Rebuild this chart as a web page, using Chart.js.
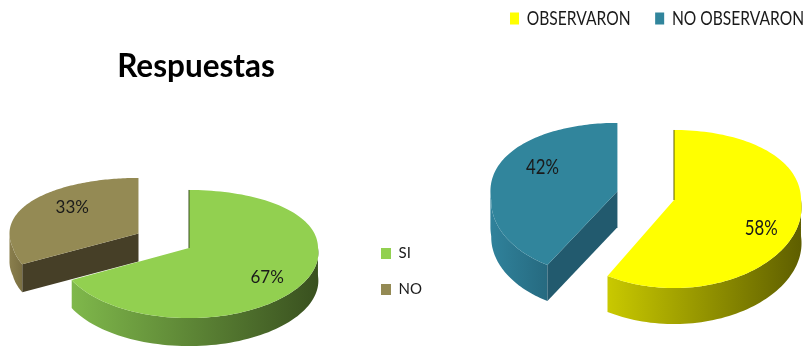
<!DOCTYPE html>
<html>
<head>
<meta charset="utf-8">
<title>Respuestas</title>
<script src="https://cdn.jsdelivr.net/npm/chart.js@4"></script>
<style>
  html, body { margin: 0; background: #fff; overflow: hidden; }
  canvas { position: absolute; left: 0; top: 0; }
</style>
</head>
<body>
<canvas id="respuestas" width="806" height="347"></canvas>
<canvas id="observaron" width="806" height="347"></canvas>
<script>
const respuestasLabels = ["SI", "NO"];
const respuestasValues = [67, 33];
const observaronLabels = ["OBSERVARON", "NO OBSERVARON"];
const observaronValues = [58, 42];

const textColor = "#1a1a1a";

// tilted disc: unit circle coordinates to canvas pixels, near side looks bigger
function project(o, u, v) {
  const w = 1 - o.tilt * v;
  const wx = 1 - 0.8 * o.tilt * Math.max(v, 0);
  return { x: o.cx + (o.rx * u) / wx, y: o.cy + (o.ry * v) / w };
}

const pie3d = {
  id: "pie3d",
  beforeDatasetsDraw(chart, args, o) {
    const ctx = chart.ctx;
    const arcs = chart.getDatasetMeta(0).data;
    // pulled out slices sit behind, so they go first
    for (let i = arcs.length - 1; i >= 0; i--) {
      const start = arcs[i].startAngle;
      const end = arcs[i].endAngle;
      const mid = (start + end) / 2;
      const ou = Math.cos(mid) * o.explode[i];
      const ov = Math.sin(mid) * o.explode[i];
      const apex = project(o, ou, ov);
      const rim = [];
      for (let k = 0; k <= 120; k++) {
        const a = start + ((end - start) * k) / 120;
        rim.push({ a, ...project(o, ou + Math.cos(a), ov + Math.sin(a)) });
      }

      // outer wall, only the part turned to the viewer
      const front = rim.filter((p) => Math.sin(p.a) >= -0.03);
      if (front.length) {
        const xs = front.map((p) => p.x);
        const grad = ctx.createLinearGradient(Math.min(...xs), 0, Math.max(...xs), 0);
        grad.addColorStop(0, o.wallFrom[i]);
        grad.addColorStop(1, o.wallTo[i]);
        ctx.fillStyle = grad;
        ctx.beginPath();
        front.forEach((p) => ctx.lineTo(p.x, p.y));
        front.slice().reverse().forEach((p) => ctx.lineTo(p.x, p.y + o.depth));
        ctx.closePath();
        ctx.fill();
      }

      // cut face on the near side of a slice
      if (Math.cos(start) < -0.01) {
        const p = rim[0];
        ctx.fillStyle = o.cut[i];
        ctx.beginPath();
        ctx.moveTo(apex.x, apex.y);
        ctx.lineTo(p.x, p.y);
        ctx.lineTo(p.x, p.y + o.depth);
        ctx.lineTo(apex.x, apex.y + o.depth);
        ctx.closePath();
        ctx.fill();
      }

      // top face
      ctx.fillStyle = chart.data.datasets[0].backgroundColor[i];
      ctx.beginPath();
      ctx.moveTo(apex.x, apex.y);
      rim.forEach((p) => ctx.lineTo(p.x, p.y));
      ctx.closePath();
      ctx.fill();

      // thin dark sliver along the upright edge of the main slice
      if (!o.explode[i]) {
        ctx.strokeStyle = o.wallTo[i];
        ctx.lineWidth = 1;
        ctx.beginPath();
        ctx.moveTo(apex.x, apex.y);
        ctx.lineTo(rim[0].x, rim[0].y);
        ctx.stroke();
      }
    }

    // percent labels, narrowed by labelStretch
    ctx.fillStyle = textColor;
    ctx.font = o.labelFont;
    ctx.textAlign = "center";
    ctx.textBaseline = "middle";
    arcs.forEach((arc, i) => {
      const mid = (arc.startAngle + arc.endAngle) / 2;
      const f = o.explode[i] + o.labelRadius;
      const p = project(o, Math.cos(mid) * f, Math.sin(mid) * f);
      const value = chart.data.datasets[0].data[i];
      ctx.save();
      ctx.translate(p.x + o.labelShift[i][0], p.y + o.labelShift[i][1]);
      ctx.scale(o.labelStretch, 1);
      ctx.fillText(value + "%", 0, 0);
      ctx.restore();
    });
    return false;
  },
  // title and legend are moved off the automatic layout boxes
  afterLayout(chart, args, o) {
    const legend = chart.legend;
    const w = legend.right - legend.left;
    const h = legend.bottom - legend.top;
    legend.left = o.legendX;
    legend.right = o.legendX + w;
    legend.top = o.legendY;
    legend.bottom = o.legendY + h;
    if (o.legendStretch !== 1 && !legend.stretched) {
      const draw = legend._draw;
      legend.stretched = true;
      legend._draw = function () {
        const ctx = this.ctx;
        ctx.save();
        ctx.translate(o.legendX, 0);
        ctx.scale(o.legendStretch, 1);
        ctx.translate(-o.legendX, 0);
        draw.call(this);
        ctx.restore();
      };
    }
    if (o.titleCenter) {
      const t = chart.titleBlock;
      t.left = o.titleCenter - 100;
      t.right = o.titleCenter + 100;
      t.top = o.titleY;
      t.bottom = o.titleY + 40;
    }
  },
};

function makePie(id, labels, values, colors, legendOptions, title, shape) {
  return new Chart(document.getElementById(id), {
    type: "pie",
    data: {
      labels,
      datasets: [{ data: values, backgroundColor: colors, borderWidth: 0 }],
    },
    plugins: [pie3d],
    options: {
      responsive: false,
      animation: false,
      events: [],
      plugins: {
        tooltip: { enabled: false },
        legend: legendOptions,
        title,
        pie3d: shape,
      },
    },
  });
}

makePie(
  "respuestas",
  respuestasLabels,
  respuestasValues,
  ["#92d050", "#948a54"],
  {
    position: "right",
    align: "start",
    labels: {
      boxWidth: 10,
      boxHeight: 11,
      padding: 21,
      color: textColor,
      font: { family: "Lato", size: 15 },
    },
  },
  {
    display: true,
    text: "Respuestas",
    color: "#000",
    padding: 0,
    font: { family: "Lato", size: 31.5, weight: "bold" },
  },
  {
    cx: 189, cy: 248, rx: 129, ry: 63.5, tilt: 0.094, depth: 28,
    explode: [0, 0.455],
    wallFrom: ["#7fb84b", "#8a7f4d"],
    wallTo: ["#39501f", "#7a6f42"],
    cut: ["#39501f", "#463f27"],
    labelFont: "17px Lato",
    labelStretch: 1,
    labelRadius: 0.66,
    labelShift: [[3, 7], [7, -6]],
    legendX: 360, legendY: 225,
    legendStretch: 1,
    titleCenter: 196, titleY: 48,
  }
);

makePie(
  "observaron",
  observaronLabels,
  observaronValues,
  ["#ffff00", "#31859c"],
  {
    position: "top",
    align: "start",
    labels: {
      boxWidth: 11,
      boxHeight: 12,
      padding: 30,
      color: textColor,
      font: { family: "Lato", size: 19 },
    },
  },
  { display: false },
  {
    cx: 674, cy: 200, rx: 127, ry: 78, tilt: 0.114, depth: 36,
    explode: [0, 0.46],
    wallFrom: ["#c9c900", "#30829b"],
    wallTo: ["#5e5e00", "#266a80"],
    cut: ["#5e5e00", "#225a6e"],
    labelFont: "21px Lato",
    labelStretch: 0.8,
    labelRadius: 0.65,
    labelShift: [[6, 15], [5, -12]],
    legendX: 485.4, legendY: -21,
    legendStretch: 0.82,
  }
);
</script>
</body>
</html>
